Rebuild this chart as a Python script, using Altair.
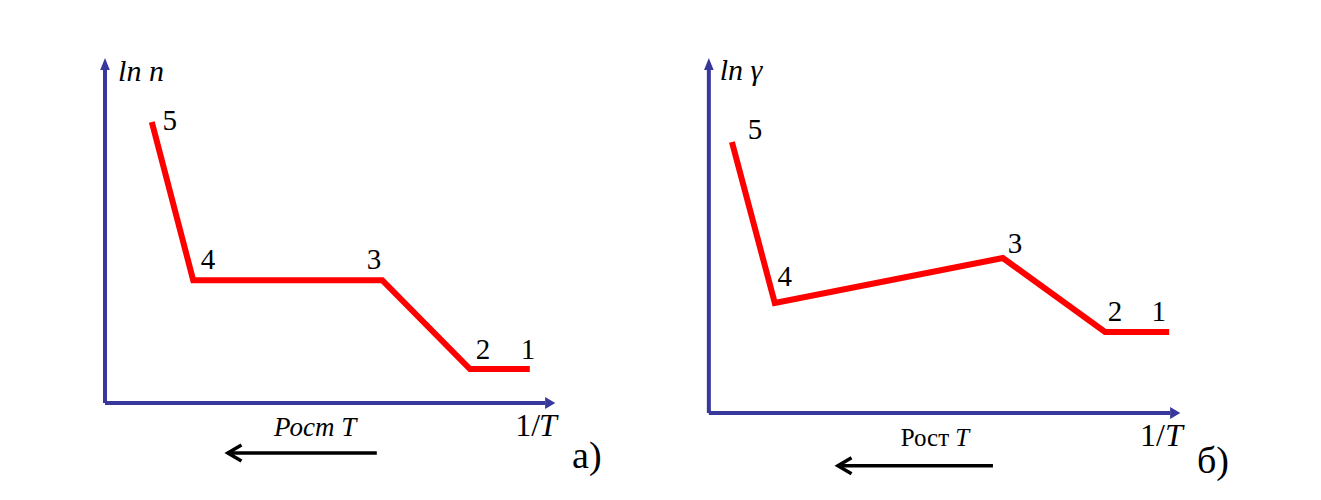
import altair as alt
import pandas as pd

# ---------------- data (panel units: origin = axes corner, 100 = top / right of plot) -------------
# Panel a) : ln n vs 1/T
a_pts_x = [10.4, 19.6, 61.6, 81.1, 94.4]
a_pts_y = [81.0, 35.4, 35.4, 9.8, 9.8]
a_labels = ["5", "4", "3", "2", "1"]
a_lab_x = [14.4, 22.9, 59.8, 84.0, 94.0]
a_lab_y = [78.7, 38.6, 38.6, 12.7, 12.7]

# Panel б) : ln γ vs 1/T
b_pts_x = [4.9, 14.0, 62.4, 84.1, 97.7]
b_pts_y = [75.9, 30.8, 43.4, 22.7, 22.7]
b_labels = ["5", "4", "3", "2", "1"]
b_lab_x = [9.8, 16.1, 65.0, 86.2, 95.5]
b_lab_y = [76.8, 35.6, 44.8, 25.8, 25.8]

BLUE = "#37379c"
RED = "#ff0000"
FONT = "Liberation Serif, Times New Roman, DejaVu Serif, serif"


def enc(xs, ys):
    return dict(
        x=alt.X("x:Q", scale=xs, axis=None),
        y=alt.Y("y:Q", scale=ys, axis=None),
    )


def text_layer(x, y, label, xs, ys, **kw):
    df = pd.DataFrame({"x": [x], "y": [y], "t": [label]})
    return alt.Chart(df).mark_text(font=FONT, color="black", baseline="alphabetic", **kw).encode(
        text="t:N", **enc(xs, ys)
    )


def panel(px, py, labels, lx, ly, w, h, x_end, y_end, arrow_x0, arrow_x1, arrow_y, texts):
    xs = alt.Scale(domain=[-4, 100], nice=False, zero=False)
    ys = alt.Scale(domain=[0, 100], nice=False, zero=False)

    # axes
    yaxis = alt.Chart(pd.DataFrame({"x": [0], "y": [0], "y2": [y_end]})).mark_rule(
        color=BLUE, strokeWidth=4, strokeCap="butt"
    ).encode(y2="y2:Q", **enc(xs, ys))
    xaxis = alt.Chart(pd.DataFrame({"x": [0], "x2": [x_end], "y": [0]})).mark_rule(
        color=BLUE, strokeWidth=4, strokeCap="butt"
    ).encode(x2="x2:Q", **enc(xs, ys))
    up_head = alt.Chart(pd.DataFrame({"x": [0], "y": [y_end]})).mark_point(
        shape="M0,-2L-0.8,0L0.8,0Z", size=144, filled=True, color=BLUE, opacity=1
    ).encode(**enc(xs, ys))
    right_head = alt.Chart(pd.DataFrame({"x": [x_end], "y": [0]})).mark_point(
        shape="M1.7,0L0,-1L0,1Z", size=144, filled=True, color=BLUE, opacity=1
    ).encode(**enc(xs, ys))

    # curve
    line_df = pd.DataFrame({"x": px, "y": py, "o": list(range(len(px)))})
    curve = alt.Chart(line_df).mark_line(
        color=RED, strokeWidth=6, strokeJoin="miter", strokeCap="butt"
    ).encode(order="o:O", **enc(xs, ys))

    lab_df = pd.DataFrame({"x": lx, "y": ly, "t": labels})
    nums = alt.Chart(lab_df).mark_text(
        font=FONT, fontSize=29, color="black", align="center", baseline="alphabetic"
    ).encode(text="t:N", **enc(xs, ys))

    # "Рост T" arrow
    arr_df = pd.DataFrame({"x": [arrow_x0], "x2": [arrow_x1], "y": [arrow_y]})
    arr_line = alt.Chart(arr_df).mark_rule(color="black", strokeWidth=3.5).encode(
        x2="x2:Q", **enc(xs, ys)
    )
    arr_head = alt.Chart(pd.DataFrame({"x": [arrow_x0], "y": [arrow_y]})).mark_point(
        shape="M1.7,-1L0,0L1.7,1", size=256, filled=False, color="black",
        strokeWidth=3.5, opacity=1, strokeJoin="miter"
    ).encode(**enc(xs, ys))

    layers = [yaxis, xaxis, up_head, right_head, curve, nums, arr_line, arr_head]
    for (x, y, t, kw) in texts:
        layers.append(text_layer(x, y, t, xs, ys, **kw))
    return alt.layer(*layers).properties(width=w, height=h)


a_texts = [
    (2.9, 92.8, "ln n", dict(fontSize=30, fontStyle="italic", align="left")),
    (96.7, -9.5, "1/", dict(fontSize=32, align="right")),
    (100.4, -9.5, "T", dict(fontSize=32, fontStyle="italic", align="right")),
    (46.7, -9.5, "Рост T", dict(fontSize=27, fontStyle="italic", align="center")),
    (103.8, -18.7, "а)", dict(fontSize=38, align="left")),
]
b_texts = [
    (2.3, 93.3, "ln γ", dict(fontSize=30, fontStyle="italic", align="left")),
    (96.8, -9.2, "1/", dict(fontSize=32, align="right")),
    (100.6, -9.2, "T", dict(fontSize=32, fontStyle="italic", align="right")),
    (51.0, -9.2, "Рост", dict(fontSize=25, align="right")),
    (52.3, -9.2, "T", dict(fontSize=25, fontStyle="italic", align="left")),
    (103.6, -16.8, "б)", dict(fontSize=38, align="left")),
]

pa = panel(a_pts_x, a_pts_y, a_labels, a_lab_x, a_lab_y, 468, 347,
           97.8, 96.0, 27.3, 60.4, -14.4, a_texts)
pb = panel(b_pts_x, b_pts_y, b_labels, b_lab_x, b_lab_y, 490, 357,
           97.9, 96.1, 27.4, 60.3, -14.8, b_texts)

chart = alt.hconcat(pa, pb, spacing=135, bounds="flush").properties(
    padding={"left": 79, "top": 47, "right": 10, "bottom": 10},
    background="white",
).configure_view(stroke=None, strokeWidth=0)

chart.save("out.html", embed_options={"renderer": "svg", "actions": False})
